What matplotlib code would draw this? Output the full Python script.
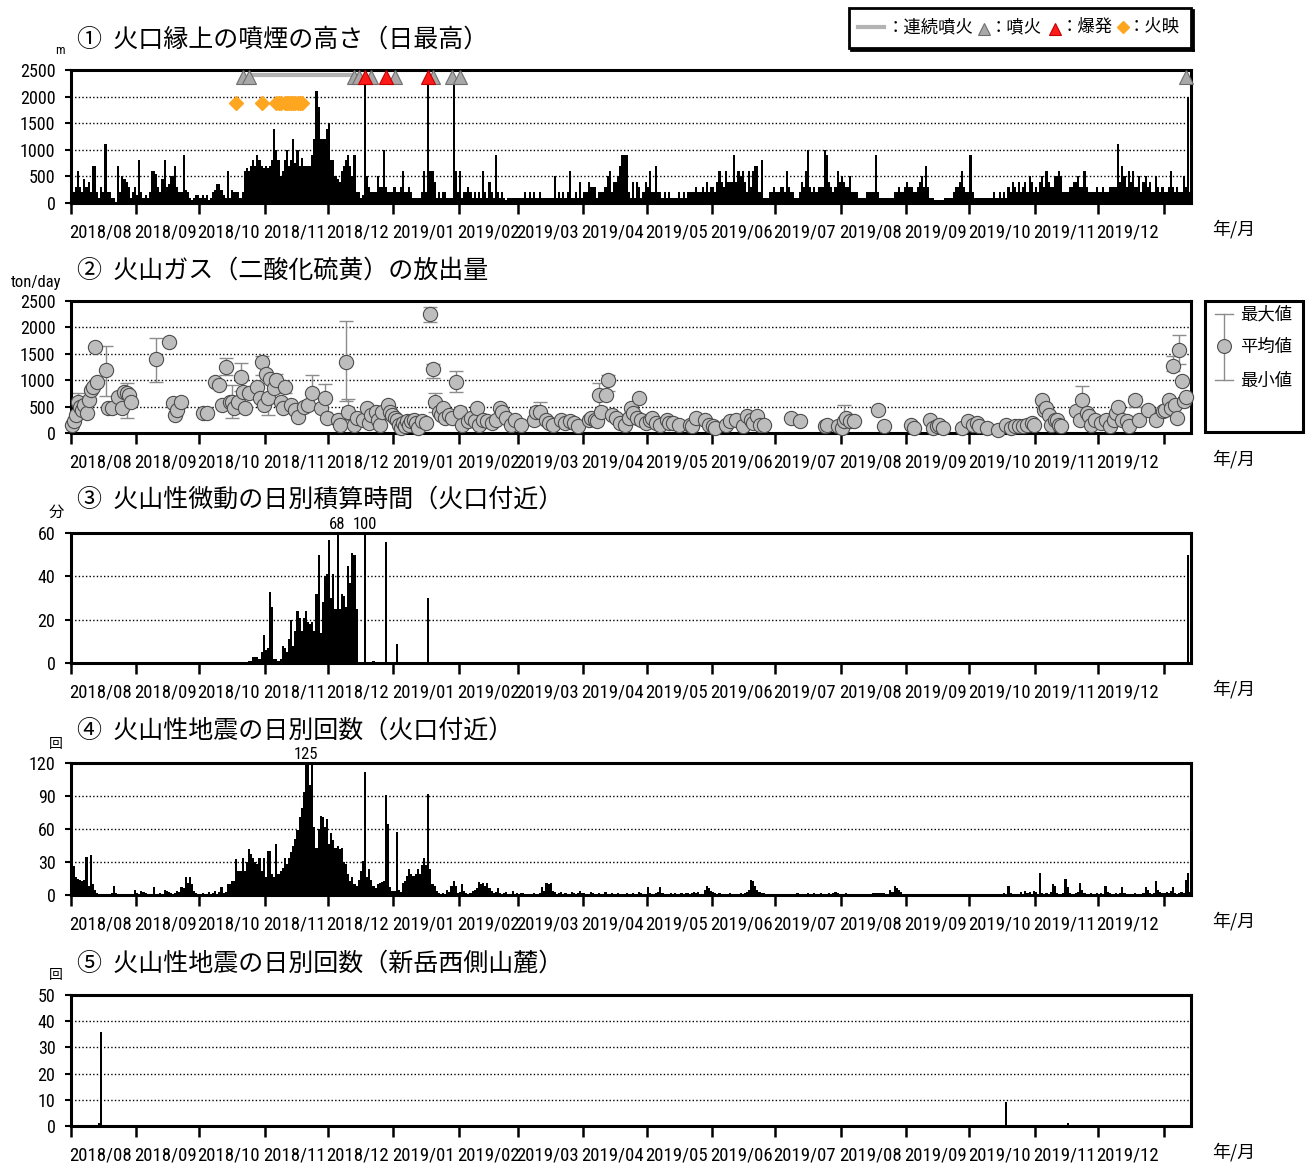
import os
import numpy as np
import matplotlib
matplotlib.use('Agg')
import matplotlib.pyplot as plt
import matplotlib.dates as mdates
from matplotlib import font_manager as fm
from matplotlib.patches import Rectangle

# ---------------- fonts ----------------
JP = 'Noto Sans CJK JP'
plt.rcParams['font.family'] = [JP, 'DejaVu Sans']


def find_condensed():
    prefs = ['Roboto Condensed', 'PT Sans Narrow', 'Open Sans Condensed', 'Asap Condensed',
             'Fira Sans Condensed', 'Encode Sans Condensed', 'Barlow Semi Condensed']
    fl = fm.fontManager.ttflist
    for p in prefs:
        for f in fl:
            if f.name == p and f.style == 'normal' and f.weight in (400, 'normal', 'regular'):
                return f.fname
    for f in fl:
        if 'DejaVuSansCondensed.ttf' in f.fname:
            return f.fname
    return None


NUM_PATH = find_condensed()


def nfp(size):
    if NUM_PATH:
        return fm.FontProperties(fname=NUM_PATH, size=size)
    return fm.FontProperties(family='DejaVu Sans', size=size * 0.85)

# ---------------- data ----------------
# (1) daily max plume height above crater rim [m]
h1808 = [300,200,300,600,300,200,450,300,400,200,700,700,200,100,300,200,1100,200,200,100,100,0,700,200,500,450,400,300,100,200,300]
h1809 = [150,800,200,100,150,100,200,600,600,550,300,200,450,800,300,350,500,500,700,300,200,200,900,250,200,100,50,100,150,150]
h1810 = [100,150,100,150,50,100,200,250,350,350,250,150,100,600,100,250,200,200,200,100,200,600,650,600,700,800,700,900,800,700,650]
h1811 = [700,650,700,800,1400,1000,800,500,600,800,1000,700,800,1200,750,1000,700,850,700,700,700,700,900,1200,2100,1800,1200,1200,1200,1400]
h1812 = [1500,800,800,500,450,400,600,700,800,900,700,500,900,200,200,100,150,2300,500,300,200,200,200,500,300,300,1000,300,200,200,200]
h1901 = [300,200,200,300,600,200,200,300,200,100,100,100,100,200,600,200,2300,600,600,400,100,200,100,200,200,100,100,100,2300,600,200]
h1902 = [600,100,200,200,300,200,100,200,100,200,100,600,200,100,400,200,100,900,200,100,200,100,50,100,100,100,100,100]
h1903 = [100,100,100,200,100,200,100,200,100,100,200,100,100,100,100,100,100,500,100,200,100,200,100,200,600,100,100,200,100,400,100]
h1904 = [200,200,400,300,300,300,100,200,200,200,300,500,600,200,400,400,500,700,900,900,900,200,100,400,100,400,300,100,200,400]
h1905 = [300,600,200,200,700,200,200,100,200,100,200,100,100,100,100,200,100,200,100,200,200,200,200,300,200,200,300,200,400,200,300]
h1906 = [300,200,400,600,400,300,600,400,400,400,900,400,600,500,600,400,200,600,300,600,700,700,200,800,100,100,100,200,200,300]
h1907 = [200,200,300,300,200,600,300,200,200,100,100,200,400,300,600,1000,300,200,300,200,300,300,300,1000,900,400,300,200,300,600,400]
h1908 = [500,400,300,300,500,200,200,200,100,100,100,100,200,200,200,200,900,200,100,100,100,100,100,100,100,200,200,300,200,200,300]
h1909 = [400,300,300,200,200,300,400,500,300,700,300,100,100,50,50,50,50,50,100,100,100,100,200,300,300,400,600,300,200,200]
h1910 = [900,200,100,100,100,100,100,100,100,100,100,200,100,100,200,100,200,100,300,200,400,300,200,400,200,300,400,200,500,400,200]
h1911 = [300,200,400,500,300,600,400,300,300,500,500,600,500,200,200,200,300,300,400,400,500,300,300,600,300,200,200,200,200,300]
h1912 = [200,200,300,200,200,300,300,300,300,1100,400,700,500,300,600,400,600,300,300,500,200,400,500,300,400,200,200,500,300,200,300]
h2001 = [200,200,300,600,300,200,300,200,200,500,300,2000,200]

month_starts = ['2018-08','2018-09','2018-10','2018-11','2018-12','2019-01','2019-02','2019-03','2019-04',
                '2019-05','2019-06','2019-07','2019-08','2019-09','2019-10','2019-11','2019-12','2020-01']
plume_months = [h1808,h1809,h1810,h1811,h1812,h1901,h1902,h1903,h1904,h1905,h1906,h1907,h1908,h1909,h1910,h1911,h1912,h2001]

eruption_dates = ['2018-10-21','2018-10-24','2018-12-13','2018-12-15','2018-12-21','2019-01-01',
                  '2019-01-19','2019-01-28','2019-02-01','2020-01-11']
explosion_dates = ['2018-12-18','2018-12-28','2019-01-17']
continuous_period = ['2018-10-25','2018-12-13']
glow_dates = ['2018-10-18','2018-10-30','2018-11-06','2018-11-07','2018-11-08','2018-11-10','2018-11-11',
              '2018-11-12','2018-11-13','2018-11-14','2018-11-15','2018-11-16','2018-11-17','2018-11-18']

# (2) SO2 emission [t/day]: days since 2018-08-01, mean values
so2_day = [0,1,2,3,4,5,6,7,8,9,10,11,12,16,17,19,22,24,25,26,27,28,
           40,46,48,49,50,52,62,64,
           68,70,71,73,75,76,77,79,80,81,82,84,88,89,90,91,92,93,94,96,97,99,100,101,104,106,107,110,112,114,118,120,
           121,126,127,130,131,134,135,138,140,141,142,144,145,146,147,150,151,152,153,154,155,156,157,158,159,160,161,162,163,164,166,168,
           170,171,172,174,175,176,177,179,180,182,184,185,188,189,191,192,193,195,197,199,201,203,204,206,208,210,213,
           219,220,222,225,226,228,232,234,236,238,240,
           245,246,248,249,250,251,253,254,256,258,260,262,264,265,266,268,269,270,272,274,275,277,279,282,283,285,288,293,294,296,300,302,
           304,305,310,312,315,318,320,322,323,325,326,328,
           341,345,357,358,363,365,366,367,369,371,382,385,398,399,407,408,410,411,413,422,425,427,429,430,434,439,443,445,447,449,451,453,455,456,
           460,461,462,463,464,466,467,468,469,476,478,479,481,482,483,485,488,490,492,494,495,496,498,500,501,504,506,510,514,517,518,
           520,521,522,523,524,525,526,527,528]
so2_mean = [150,220,340,590,500,440,530,375,625,810,875,1620,970,1190,470,470,690,470,780,750,720,590,
            1400,1720,560,340,440,590,375,375,
            970,905,530,1250,590,590,470,590,1060,780,470,750,875,655,1340,530,1125,655,1030,845,1000,590,470,875,530,440,310,500,530,750,470,655,
            280,250,156,1340,400,156,280,250,470,190,340,400,250,156,400,530,400,340,280,250,156,94,190,125,220,156,220,250,190,94,220,190,
            2250,1220,590,400,340,470,280,340,280,970,400,156,220,280,220,470,156,250,220,190,250,470,400,280,156,250,156,
            250,400,400,250,190,156,250,190,220,190,125,
            250,280,250,220,720,400,720,1000,340,280,190,156,280,470,375,280,655,250,190,250,280,190,156,250,190,190,160,160,126,280,250,160,
            126,95,160,220,250,126,315,250,190,315,160,160,
            280,220,126,160,126,95,220,280,220,220,440,126,160,95,250,95,126,160,95,95,220,160,190,126,95,63,160,95,126,126,126,160,190,160,
            630,440,470,350,160,250,250,160,126,410,250,630,380,315,160,250,190,250,126,250,380,500,250,220,126,630,250,440,250,410,440,
            630,470,1260,535,280,1575,980,600,690]
so2_err_day = [3,16,26,40,73,76,80,90,93,97,101,114,120,130,131,170,171,172,182,222,250,254,366,479,504,522,525]
so2_min = [300,700,290,970,1100,280,800,1100,340,900,750,450,400,600,250,2100,1050,400,770,300,400,800,150,450,500,1165,1300]
so2_max = [750,1650,940,1800,1420,900,1330,1450,700,1125,900,1090,920,2130,650,2380,1300,760,1170,580,950,1100,530,895,710,1450,1860]

# (3) daily volcanic tremor duration [min]
tremor_start = '2018-10-24'
tremor_run = [1,1,3,3,3,2,5,13,6,7,33,26,2,2,1,2,8,7,5,11,20,8,15,24,21,15,21,24,19,18,19,15,32,50,14,28,40,41,57,30,
              41,25,68,25,32,31,26,45,37,51,50,25]
tremor_extra_dates = ['2018-12-18','2018-12-22','2018-12-28','2019-01-02','2019-01-17','2020-01-12']
tremor_extra_vals = [100,1,56,9,30,50]

# (4) daily number of volcanic earthquakes near the crater
q1808 = [13,26,16,15,14,13,14,35,8,36,10,5,2,1,1,1,0,1,1,2,8,2,1,1,1,1,1,0,1,1,5]
q1809 = [2,1,4,3,2,1,1,1,7,1,1,2,1,5,4,3,2,1,2,4,3,7,6,16,11,16,10,4,2,1]
q1810 = [1,2,1,1,3,1,2,4,1,3,7,2,3,10,10,13,13,33,22,22,34,22,30,42,37,34,30,28,34,22,34]
q1811 = [16,40,40,19,16,46,19,22,25,34,28,34,39,45,51,59,71,79,94,125,120,100,120,62,43,60,72,71,62,69]
q1812 = [46,56,50,43,45,42,43,30,28,19,13,16,10,8,14,22,31,112,16,24,14,8,6,10,11,12,13,91,65,7,4]
q1901 = [4,57,5,3,11,13,17,24,19,17,19,24,19,27,34,27,92,24,10,8,4,2,1,2,1,5,3,8,13,8,2]
q1902 = [3,10,4,2,1,2,4,5,6,12,10,11,8,11,6,4,2,3,6,2,1,2,3,1,1,4,1,2]
q1903 = [1,2,2,1,1,1,1,2,1,1,2,7,4,11,10,11,4,3,1,2,3,1,2,1,1,3,2,1,2,4,2]
q1904 = [2,1,1,3,2,1,1,2,1,1,3,1,1,2,1,1,2,1,1,1,2,1,1,2,1,1,3,2,1,1]
q1905 = [7,2,1,1,2,3,7,2,1,1,1,2,1,2,1,1,2,1,2,2,1,2,3,2,3,1,1,5,8,6,4]
q1906 = [3,2,1,2,1,1,1,1,2,1,1,1,1,2,1,2,3,5,14,13,8,5,3,2,2,1,1,1,0,1]
q1907 = [1,1,0,1,1,1,0,1,1,1,2,1,1,1,1,2,1,1,2,1,1,2,1,1,1,2,1,2,3,2,1]
q1908 = [1,1,2,1,1,1,0,1,1,1,1,1,1,1,1,2,2,2,2,2,2,1,1,5,3,8,6,5,3,1,1]
q1909 = [0,0,0,0,0,0,0,0,0,0,0,0,0,0,0,0,0,0,1,0,0,0,0,0,0,0,0,0,0,0]
q1910 = [0,0,1,1,0,1,0,0,1,1,0,0,1,1,0,1,2,1,8,2,1,1,0,1,3,1,4,2,3,1,4]
q1911 = [3,1,20,2,1,2,1,3,10,8,2,1,1,2,15,7,2,1,1,2,3,11,5,2,1,1,2,1,1,2]
q1912 = [1,2,1,8,3,2,1,1,2,1,2,7,2,1,1,1,1,2,1,1,1,2,7,5,2,1,2,13,5,3,2]
q2001 = [2,3,2,4,7,2,1,2,3,2,14,20,3]
quake_months = [q1808,q1809,q1810,q1811,q1812,q1901,q1902,q1903,q1904,q1905,q1906,q1907,q1908,q1909,q1910,q1911,q1912,q2001]

# (5) daily number of volcanic earthquakes, western flank of Shindake
west_dates = ['2018-08-14','2018-08-15','2019-10-18','2019-11-16']
west_vals = [1,36,9,1]

month_labels = ['2018/08','2018/09','2018/10','2018/11','2018/12','2019/01','2019/02','2019/03','2019/04',
                '2019/05','2019/06','2019/07','2019/08','2019/09','2019/10','2019/11','2019/12']

titles = ['①  火口縁上の噴煙の高さ（日最高）', '②  火山ガス（二酸化硫黄）の放出量',
          '③  火山性微動の日別積算時間（火口付近）', '④  火山性地震の日別回数（火口付近）',
          '⑤  火山性地震の日別回数（新岳西側山麓）']
units = ['m', 'ton/day', '分', '回', '回']

# ---------------- helpers ----------------
def d2n(s):
    return mdates.date2num(np.datetime64(s))


def daily(starts, lists):
    xs, vs = [], []
    for m, vals in zip(starts, lists):
        s = d2n(m + '-01')
        for i, v in enumerate(vals):
            xs.append(s + i)
            vs.append(v)
    return np.array(xs), np.array(vs)


START = d2n('2018-08-01')
END = d2n('2020-01-14')

W, H = 1312, 1167
fig = plt.figure(figsize=(W / 100, H / 100), dpi=100)

rows = [(70, 203), (301, 433), (533, 663), (763, 895), (995, 1126)]
L, R = 70.7, 1191
axes = []
for top, bot in rows:
    ax = fig.add_axes([L / W, 1 - bot / H, (R - L) / W, (bot - top) / H])
    axes.append(ax)

month_ticks = [d2n(m + '-01') for m in month_starts]
label_pos = [d2n(m + '-15') for m in month_starts[:-1]]


def style(ax, ymax, step):
    ax.set_xlim(START, END)
    ax.set_ylim(0, ymax)
    ax.set_xticks(month_ticks)
    ax.set_xticklabels([])
    ax.set_xticks(label_pos, minor=True)
    ax.set_xticklabels(month_labels, minor=True, fontproperties=nfp(13.5))
    ax.tick_params(axis='x', which='major', direction='out', length=8, width=1.8)
    ax.tick_params(axis='x', which='minor', length=0, pad=15)
    yt = np.arange(0, ymax + 0.1, step)
    ax.set_yticks(yt)
    ax.set_yticklabels([f'{int(v)}' for v in yt], fontproperties=nfp(13))
    ax.tick_params(axis='y', direction='out', length=4, width=1.5, pad=7)
    for v in yt[1:-1]:
        ax.axhline(v, color='black', lw=1.0, ls=(0, (1, 1.6)), zorder=0.5)
    for sp in ax.spines.values():
        sp.set_linewidth(2.2)
        sp.set_color('black')
    ax.set_facecolor('white')


# ---- panel 1
ax = axes[0]
px, pv = daily(month_starts, plume_months)
ax.bar(px, pv, width=1.0, align='edge', color='black', linewidth=0, zorder=2)
style(ax, 2500, 500)
mark_y = 2370
cs, ce = d2n(continuous_period[0]) + 0.5, d2n(continuous_period[1]) + 0.5
ax.plot([cs, ce], [mark_y + 30, mark_y + 30], color='#b3b3b3', lw=3, zorder=3, clip_on=False)
ax.plot([d2n(d) + 0.5 for d in eruption_dates], [mark_y] * len(eruption_dates), ls='none', marker='^',
        ms=9.5, mfc='#a8a8a8', mec='#6e6e6e', mew=0.8, zorder=4, clip_on=False)
ax.plot([d2n(d) + 0.5 for d in explosion_dates], [mark_y] * len(explosion_dates), ls='none', marker='^',
        ms=9.5, mfc='#ff1a1a', mec='#c00000', mew=0.8, zorder=5, clip_on=False)
ax.plot([d2n(d) + 0.5 for d in glow_dates], [1880] * len(glow_dates), ls='none', marker='D',
        ms=7, mfc='#ffa620', mec='#ffa620', zorder=4)

# ---- panel 2
ax = axes[1]
sx = START + np.array(so2_day) + 0.5
mean_by_day = dict(zip(so2_day, so2_mean))
ex = START + np.array(so2_err_day) + 0.5
em = np.array([mean_by_day[d] for d in so2_err_day])
ax.errorbar(ex, em, yerr=[em - np.array(so2_min), np.array(so2_max) - em], fmt='none',
            ecolor='#8c8c8c', elinewidth=1.0, capsize=5, capthick=1.0, zorder=2)
ax.scatter(sx, so2_mean, s=105, facecolor='#bdbdbd', edgecolor='#4d4d4d', linewidth=0.8, zorder=3, clip_on=False)
style(ax, 2500, 500)

# ---- panel 3
ax = axes[2]
tx = d2n(tremor_start) + np.arange(len(tremor_run))
ax.bar(tx, tremor_run, width=1.0, align='edge', color='black', linewidth=0, zorder=2)
tex = np.array([d2n(d) for d in tremor_extra_dates])
ax.bar(tex, tremor_extra_vals, width=1.0, align='edge', color='black', linewidth=0, zorder=2)
style(ax, 60, 20)
for x, v in list(zip(tx, tremor_run)) + list(zip(tex, tremor_extra_vals)):
    if v > 60:
        ax.annotate(f'{v}', xy=(x + 0.5, 60), xytext=(0, 0.5), textcoords='offset points',
                    ha='center', va='bottom', fontproperties=nfp(12), annotation_clip=False)

# ---- panel 4
ax = axes[3]
qx, qv = daily(month_starts, quake_months)
ax.bar(qx, qv, width=1.0, align='edge', color='black', linewidth=0, zorder=2)
style(ax, 120, 30)
for x, v in zip(qx, qv):
    if v > 120:
        ax.annotate(f'{v}', xy=(x + 0.5, 120), xytext=(0, 0.5), textcoords='offset points',
                    ha='center', va='bottom', fontproperties=nfp(12), annotation_clip=False)

# ---- panel 5
ax = axes[4]
wx = np.array([d2n(d) for d in west_dates])
ax.bar(wx, west_vals, width=1.0, align='edge', color='black', linewidth=0, zorder=2)
style(ax, 50, 10)

# ---------------- overlay (titles, units, legends) ----------------
ov = fig.add_axes([0, 0, 1, 1], zorder=10)
ov.set_xlim(0, W)
ov.set_ylim(H, 0)
ov.axis('off')
ov.patch.set_alpha(0)

title_y = [40, 271, 500, 731, 964]
for t, y in zip(titles, title_y):
    ov.text(77, y, t, fontsize=18, family=[JP, 'DejaVu Sans'], ha='left', va='center')
unit_pos = [(60, 51, 9), (36, 282, 12), (56, 512, 11), (56, 744, 10), (56, 975, 10)]
for u, (x, y, fs) in zip(units, unit_pos):
    if u.isascii():
        ov.text(x, y, u, fontproperties=nfp(fs), ha='center', va='center')
    else:
        ov.text(x, y, u, fontsize=fs, family=[JP], ha='center', va='center')
for top, bot in rows:
    ov.text(1212, bot + 26, '年/月', fontsize=13, family=[JP], ha='left', va='center')

# legend 1
ov.add_patch(Rectangle((849, 8), 342, 40, facecolor='white', edgecolor='black', lw=2.0))
ov.plot([851, 1193], [49.5, 49.5], color='black', lw=2.0)
ov.plot([1192.5, 1192.5], [10, 50], color='black', lw=2.0)
fs_leg = 12.5
ov.plot([858, 884], [27, 27], color='#b3b3b3', lw=3)
ov.text(887, 27, '：連続噴火', fontsize=fs_leg, family=[JP], va='center', ha='left')
ov.plot([984], [29], marker='^', ms=9, mfc='#a8a8a8', mec='#6e6e6e', mew=0.8, ls='none')
ov.text(990, 27, '：噴火', fontsize=fs_leg, family=[JP], va='center', ha='left')
ov.plot([1055], [29], marker='^', ms=9, mfc='#ff1a1a', mec='#c00000', mew=0.8, ls='none')
ov.text(1061, 27, '：爆発', fontsize=fs_leg, family=[JP], va='center', ha='left')
ov.plot([1123], [27], marker='D', ms=6, mfc='#ffa620', mec='#ffa620', ls='none')
ov.text(1128, 27, '：火映', fontsize=fs_leg, family=[JP], va='center', ha='left')

# legend 2
ov.add_patch(Rectangle((1205, 301), 98, 131, facecolor='white', edgecolor='black', lw=2.2))
ov.plot([1224, 1224], [314, 380], color='#8c8c8c', lw=1.0)
ov.plot([1215, 1233], [314, 314], color='#8c8c8c', lw=1.0)
ov.plot([1215, 1233], [380, 380], color='#8c8c8c', lw=1.0)
ov.plot([1224], [346], marker='o', ms=10, mfc='#bdbdbd', mec='#4d4d4d', mew=0.8, ls='none')
for txt, y in zip(['最大値', '平均値', '最小値'], [314, 347, 381]):
    ov.text(1240, y, txt, fontsize=12.5, family=[JP], va='center', ha='left')

fig.savefig('out.png', dpi=100, facecolor='white')
